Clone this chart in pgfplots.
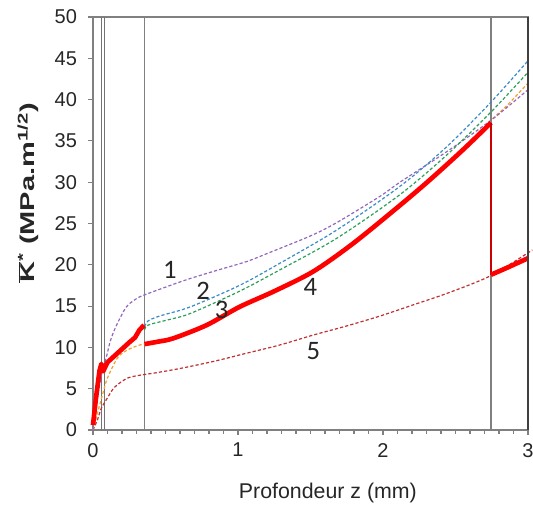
\documentclass[border=0pt]{standalone}
\usepackage{fontspec}
\setmainfont{Liberation Sans}
\newfontfamily\calib{Carlito}
\usepackage{graphicx}
\usepackage{pgfplots}
\pgfplotsset{compat=1.18}

\definecolor{cpurple}{HTML}{9467BD}
\definecolor{cblue}{HTML}{3A8CC8}
\definecolor{cgreen}{HTML}{2CA05A}
\definecolor{corange}{HTML}{F0A030}
\definecolor{cdred}{HTML}{C03030}
\definecolor{axgray}{HTML}{808080}

\begin{document}
\begin{tikzpicture}
\begin{axis}[
 name=ax,
 scale only axis, width=326.25pt, height=309.75pt,
 xmin=0, xmax=3, ymin=0, ymax=50,
 xtick={0,1,2,3}, minor x tick num=9,
 ytick={0,5,...,50},
 tick align=outside, major tick length=3.75pt, minor tick length=3pt,
 xtick pos=bottom, ytick pos=left,
 axis line style={axgray, line width=1pt},
 tick style={axgray, line width=0.8pt},
 ticklabel style={font=\fontsize{15}{17}\selectfont, text=black!85},
 yticklabel style={xshift=-4.75pt},
 xticklabel style={yshift=-2.5pt},
 /pgf/number format/assume math mode=true,
 clip=false,
 xlabel={Profondeur z (mm)},
 xlabel style={at={(axis description cs:0.54,-0.1525)}, anchor=center, font=\fontsize{16}{18}\selectfont, text=black!85},
 ylabel={\scalebox{1.45}[1]{\bfseries$\overline{\hbox{\bfseries K}}$\textsuperscript{*} (MPa.m\textsuperscript{1/2})}},
 ylabel style={at={(axis description cs:-0.149,0.574)}, anchor=center, font=\fontsize{15}{17}\selectfont, text=black!85},
 dashpat/.style={line width=0.9pt, dash pattern=on 2.4pt off 1.6pt},
]
% vertical lines
\addplot[black!55, line width=1pt] coordinates {(0.06,0) (0.06,50)};
\addplot[black!55, line width=1pt] coordinates {(0.078,0) (0.078,50)};
\addplot[axgray, line width=1pt] coordinates {(0.355,0) (0.355,50)};
\addplot[axgray, line width=1pt] coordinates {(2.745,0) (2.745,50)};

% 5 dark red
\addplot[cdred, dashpat, smooth] coordinates {
(0,0) (0.03,1.2) (0.057,2.6) (0.1,3.9) (0.15,5.2) (0.24,6.3) (0.347,6.7) (0.425,6.9)
(0.6,7.45) (0.83,8.3) (1.06,9.3) (1.29,10.3) (1.52,11.5) (1.75,12.6) (1.98,13.8) (2.2,15.1)
(2.45,16.6) (2.745,18.7) (3.03,21.8)};
% orange
\addplot[corange, dashpat, smooth] coordinates {
(0,0) (0.03,2) (0.069,4.5) (0.1,6.3) (0.172,8.8) (0.25,9.8) (0.345,10.4)
(0.45,10.7) (0.554,11.1) (0.784,12.7) (1.01,14.9) (1.25,16.8) (1.52,19.2) (1.795,22.6)
(2.117,27.2) (2.324,30.3) (2.55,34.0) (2.745,37.5) (2.85,39.2) (3.0,42)};
% 1 purple
\addplot[cpurple, dashpat, smooth] coordinates {
(0,0) (0.03,3.8) (0.06,6.8) (0.092,8.8) (0.12,10.8) (0.16,12.6) (0.23,14.9) (0.3,15.9)
(0.347,16.3) (0.485,17.2) (0.646,18.2) (0.83,19.2) (1.06,20.4) (1.22,21.5) (1.5,23.5)
(1.68,25.1) (1.98,28.3) (2.117,30.0) (2.44,33.7) (2.745,37.5) (3.0,41.2)};
% 2 blue
\addplot[cblue, dashpat, smooth] coordinates {
(0.355,12.5) (0.38,13.2) (0.46,13.8) (0.67,14.9) (1.01,17.5) (1.29,20.2) (1.68,24.2)
(2.117,29.5) (2.44,34.3) (2.745,39.7) (3.0,44.7)};
% 3 green
\addplot[cgreen, dashpat, smooth] coordinates {
(0.355,12.1) (0.38,12.7) (0.508,13.3) (0.67,14.1) (1.01,16.8) (1.29,19.4) (1.68,23.2)
(2.117,28.5) (2.44,33.3) (2.745,38.5) (3.0,43.3)};

% 4 red thick
\addplot[red, line width=3.5pt, line join=round] coordinates {
(0,0.6) (0.02,3.8) (0.045,7.2) (0.058,8.0) (0.07,7.1) (0.1,8.2) (0.15,9.0) (0.2,9.8)
(0.25,10.6) (0.29,11.2) (0.32,12.1) (0.352,12.7)};
\addplot[red, line width=3.5pt, smooth] coordinates {
(0.355,10.4) (0.45,10.7) (0.554,11.1) (0.784,12.7) (1.01,14.9) (1.25,16.8) (1.52,19.2)
(1.795,22.6) (2.117,27.2) (2.324,30.3) (2.55,33.9) (2.745,37.2)};
\addplot[red!80!black, line width=1pt] coordinates {(2.745,37.2) (2.745,18.8)};
\addplot[red, line width=3.5pt, smooth] coordinates {(2.745,18.8) (2.85,19.6) (3.0,20.8)};

% right boundary
\addplot[black!75, line width=1pt] coordinates {(3,0) (3,50)};

% curve numbers
\node[font=\calib\fontsize{20}{22}\selectfont, text=black!85] at (axis cs:0.531,19.4) {1};
\node[font=\calib\fontsize{20}{22}\selectfont, text=black!85] at (axis cs:0.76,16.9) {2};
\node[font=\calib\fontsize{20}{22}\selectfont, text=black!85] at (axis cs:0.887,14.5) {3};
\node[font=\calib\fontsize{20}{22}\selectfont, text=black!85] at (axis cs:1.50,17.3) {4};
\node[font=\calib\fontsize{20}{22}\selectfont, text=black!85] at (axis cs:1.52,9.5) {5};
\end{axis}
\pgfresetboundingbox
\path (ax.south west) ++(-69.75pt,-57pt) rectangle ([shift={(3.75pt,12.75pt)}]ax.north east);
\end{tikzpicture}
\end{document}
